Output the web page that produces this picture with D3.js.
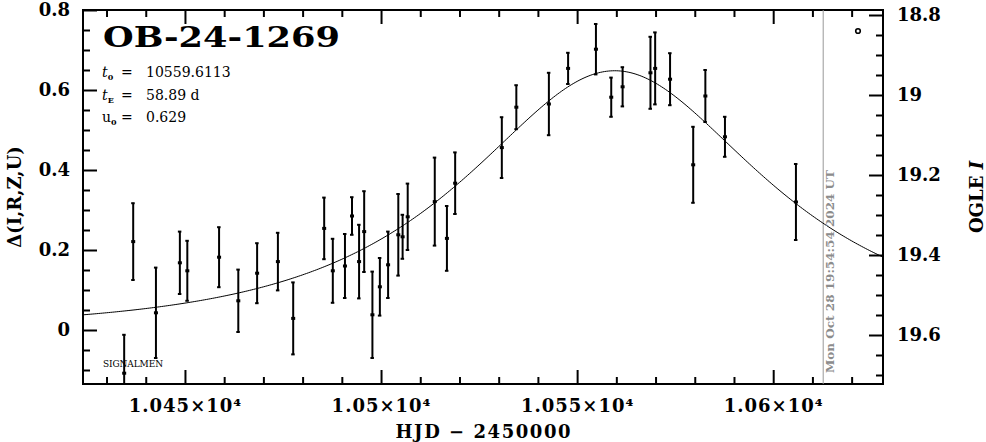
<!DOCTYPE html>
<html>
<head>
<meta charset="utf-8">
<script src="https://cdn.jsdelivr.net/npm/d3@7"></script>
<style>
  html, body { margin: 0; padding: 0; background: #fff; }
  svg { display: block; }
</style>
</head>
<body>
<svg id="chart" width="986" height="442"></svg>
<script>
// ---- data ----
const eventName = "OB-24-1269";
const hjd = [10434.5, 10436.8, 10442.6, 10448.7, 10450.6, 10458.7, 10463.6, 10468.4, 10473.7, 10477.6,
             10485.5, 10487.7, 10490.8, 10492.6, 10494.4, 10495.7, 10497.8, 10499.7, 10501.8, 10504.4,
             10505.5, 10506.8, 10513.7, 10516.8, 10518.9, 10530.8, 10534.5, 10542.8, 10547.7, 10554.8,
             10558.7, 10561.6, 10568.7, 10569.9, 10573.7, 10579.6, 10582.7, 10587.7, 10605.8];
const delta = [-0.108, 0.221, 0.043, 0.168, 0.148, 0.182, 0.073, 0.142, 0.171, 0.029,
               0.254, 0.148, 0.160, 0.285, 0.171, 0.246, 0.038, 0.108, 0.163, 0.238,
               0.233, 0.283, 0.321, 0.229, 0.367, 0.456, 0.557, 0.565, 0.654, 0.702,
               0.582, 0.608, 0.643, 0.654, 0.627, 0.413, 0.585, 0.483, 0.320];
const errs = [0.096, 0.096, 0.113, 0.078, 0.075, 0.075, 0.078, 0.075, 0.072, 0.090,
              0.077, 0.080, 0.080, 0.047, 0.092, 0.101, 0.108, 0.072, 0.083, 0.102,
              0.055, 0.083, 0.110, 0.081, 0.077, 0.076, 0.055, 0.078, 0.039, 0.063,
              0.049, 0.049, 0.090, 0.090, 0.065, 0.095, 0.065, 0.050, 0.095];
// model parameters printed on the chart (Paczynski point-lens curve)
const t0 = 10559.6113, tE = 58.89, u0 = 0.629;
const baseMag = 19.5875;            // OGLE I at delta = 0
const nowHJD = 10612.75;            // date marker line
const dateText = "Mon Oct 28 19:54:54 2024 UT";

const xTicks = [10450, 10500, 10550, 10600];
const xTickLabels = ["1.045×10⁴", "1.05×10⁴", "1.055×10⁴", "1.06×10⁴"];
const yTicks = [0, 0.2, 0.4, 0.6, 0.8];
const yTickLabels = ["0", "0.2", "0.4", "0.6", "0.8"];
const magTicks = [18.8, 19, 19.2, 19.4, 19.6];
const magTickLabels = ["18.8", "19", "19.2", "19.4", "19.6"];

// ---- layout ----
const L = 83, R = 883, T = 10, B = 384;
const svg = d3.select("#chart");
svg.append("rect").attr("width", 986).attr("height", 442).attr("fill", "#fff");

const x = d3.scaleLinear().domain([10424, 10628]).range([L, R]);
const y = d3.scaleLinear().domain([-0.135, 0.8]).range([B, T]);
const ym = d3.scaleLinear().domain([baseMag + 0.135, baseMag - 0.8]).range([B, T]);

svg.append("clipPath").attr("id", "clip").append("rect")
  .attr("x", L).attr("y", T).attr("width", R - L).attr("height", B - T);

const serif = "'DejaVu Serif', 'Liberation Serif', serif";

function styleAxis(g) {
  g.select(".domain").remove();
  g.selectAll(".tick line").attr("stroke", "#000").attr("stroke-width", 2);
  g.selectAll("text").attr("font-family", serif).attr("font-weight", "bold")
    .attr("font-size", 18).attr("fill", "#000");
}

const xMinor = d3.range(10430, 10628, 10).filter(v => !xTicks.includes(v));
const yMinor = d3.range(-0.1, 0.8, 0.05).filter(v => !yTicks.some(t => Math.abs(t - v) < 1e-6));
const magMinor = d3.range(18.8, 19.72, 0.05).filter(v => !magTicks.some(t => Math.abs(t - v) < 1e-6));

// bottom
svg.append("g").attr("transform", `translate(0,${B})`)
  .call(d3.axisBottom(x).tickValues(xTicks).tickSize(-14).tickPadding(15)
    .tickFormat((d, i) => xTickLabels[i])).call(styleAxis)
  .selectAll("text").attr("letter-spacing", 1);
svg.append("g").attr("transform", `translate(0,${B})`)
  .call(d3.axisBottom(x).tickValues(xMinor).tickSize(-7).tickFormat("")).call(styleAxis);
// top
svg.append("g").attr("transform", `translate(0,${T})`)
  .call(d3.axisTop(x).tickValues(xTicks).tickSize(-14).tickFormat("")).call(styleAxis);
svg.append("g").attr("transform", `translate(0,${T})`)
  .call(d3.axisTop(x).tickValues(xMinor).tickSize(-7).tickFormat("")).call(styleAxis);
// left
svg.append("g").attr("transform", `translate(${L},0)`)
  .call(d3.axisLeft(y).tickValues(yTicks).tickSize(-14).tickPadding(13)
    .tickFormat((d, i) => yTickLabels[i])).call(styleAxis);
svg.append("g").attr("transform", `translate(${L},0)`)
  .call(d3.axisLeft(y).tickValues(yMinor).tickSize(-7).tickFormat("")).call(styleAxis);
// right
svg.append("g").attr("transform", `translate(${R},0)`)
  .call(d3.axisRight(ym).tickValues(magTicks).tickSize(-14).tickPadding(14)
    .tickFormat((d, i) => magTickLabels[i])).call(styleAxis);
svg.append("g").attr("transform", `translate(${R},0)`)
  .call(d3.axisRight(ym).tickValues(magMinor).tickSize(-7).tickFormat("")).call(styleAxis);

// frame
svg.append("rect").attr("x", L).attr("y", T).attr("width", R - L).attr("height", B - T)
  .attr("fill", "none").attr("stroke", "#000").attr("stroke-width", 2);

const plot = svg.append("g").attr("clip-path", "url(#clip)");

// date marker line
plot.append("line").attr("x1", x(nowHJD)).attr("x2", x(nowHJD)).attr("y1", T).attr("y2", B)
  .attr("stroke", "#999").attr("stroke-width", 1);
svg.append("text")
  .attr("transform", `translate(${x(nowHJD) + 11},373) rotate(-90)`)
  .attr("font-family", serif).attr("font-weight", "bold").attr("font-size", 11)
  .attr("fill", "#8c8c8c").attr("textLength", 203).attr("lengthAdjust", "spacingAndGlyphs")
  .text(dateText);

// model curve
const modelT = d3.range(10424, 10628.5, 0.5);
function magnif(t) {
  const tau = (t - t0) / tE;
  const u2 = u0 * u0 + tau * tau;
  return (u2 + 2) / (Math.sqrt(u2) * Math.sqrt(u2 + 4));
}
plot.append("path")
  .datum(modelT)
  .attr("fill", "none").attr("stroke", "#000").attr("stroke-width", 1)
  .attr("d", d3.line().x(d => x(d)).y(d => y(2.5 * Math.log10(magnif(d)))));

// data points with error bars
const pts = hjd.map((h, i) => ({ h, v: delta[i], e: errs[i] }));
const eg = plot.append("g").selectAll("g").data(pts).join("g");
eg.append("line")
  .attr("x1", d => x(d.h)).attr("x2", d => x(d.h))
  .attr("y1", d => y(d.v + d.e)).attr("y2", d => y(d.v - d.e))
  .attr("stroke", "#000").attr("stroke-width", 2);
eg.append("line")
  .attr("x1", d => x(d.h) - 2).attr("x2", d => x(d.h) + 1.5)
  .attr("y1", d => y(d.v + d.e)).attr("y2", d => y(d.v + d.e))
  .attr("stroke", "#000").attr("stroke-width", 2);
eg.append("line")
  .attr("x1", d => x(d.h) - 2).attr("x2", d => x(d.h) + 1.5)
  .attr("y1", d => y(d.v - d.e)).attr("y2", d => y(d.v - d.e))
  .attr("stroke", "#000").attr("stroke-width", 2);
eg.append("rect")
  .attr("x", d => x(d.h) - 2).attr("y", d => y(d.v) - 1.5)
  .attr("width", 4).attr("height", 3).attr("fill", "#000");

// small circle at top right
svg.append("circle").attr("cx", 858).attr("cy", 31).attr("r", 2.3)
  .attr("fill", "none").attr("stroke", "#000").attr("stroke-width", 1.6);

// title and parameters
svg.append("text").attr("x", 103).attr("y", 47)
  .attr("font-family", serif).attr("font-weight", "bold").attr("font-size", 28)
  .attr("textLength", 237).attr("lengthAdjust", "spacingAndGlyphs")
  .attr("fill", "#000").text(eventName);

const params = [
  { sym: "t", sub: "0", italic: true, rest: "= 10559.6113", y: 77 },
  { sym: "t", sub: "E", italic: true, rest: "= 58.89 d", y: 100 },
  { sym: "u", sub: "0", italic: false, rest: "= 0.629", y: 122 }
];
params.forEach(p => {
  const t = svg.append("text").attr("x", 102).attr("y", p.y)
    .attr("font-family", serif).attr("font-size", 14).attr("fill", "#000");
  t.append("tspan").attr("font-style", p.italic ? "italic" : "normal").text(p.sym);
  t.append("tspan").attr("font-size", 8).attr("dy", 3).attr("font-weight", "bold").text(p.sub);
  t.append("tspan").attr("x", 121).attr("dy", -3).text(p.rest.split(" ")[0]);
  t.append("tspan").attr("x", 146).text(p.rest.split(" ").slice(1).join(" "));
});

svg.append("text").attr("x", 103).attr("y", 367)
  .attr("font-family", serif).attr("font-size", 9).attr("fill", "#000")
  .attr("textLength", 60).text("SIGNALMEN");

// axis titles
svg.append("text").attr("x", (L + R) / 2).attr("y", 438).attr("text-anchor", "middle")
  .attr("font-family", serif).attr("font-weight", "bold").attr("font-size", 18)
  .attr("textLength", 175).attr("fill", "#000").text("HJD − 2450000");

svg.append("text")
  .attr("transform", `translate(21,${(T + B) / 2}) rotate(-90)`)
  .attr("text-anchor", "middle")
  .attr("font-family", serif).attr("font-weight", "bold").attr("font-size", 18)
  .attr("fill", "#000").text("Δ(I,R,Z,U)");

const ogle = svg.append("text")
  .attr("transform", `translate(983,${(T + B) / 2}) rotate(-90)`)
  .attr("text-anchor", "middle")
  .attr("font-family", serif).attr("font-weight", "bold").attr("font-size", 18)
  .attr("fill", "#000");
ogle.append("tspan").text("OGLE ");
ogle.append("tspan").attr("font-style", "italic").text("I");
</script>
</body>
</html>
